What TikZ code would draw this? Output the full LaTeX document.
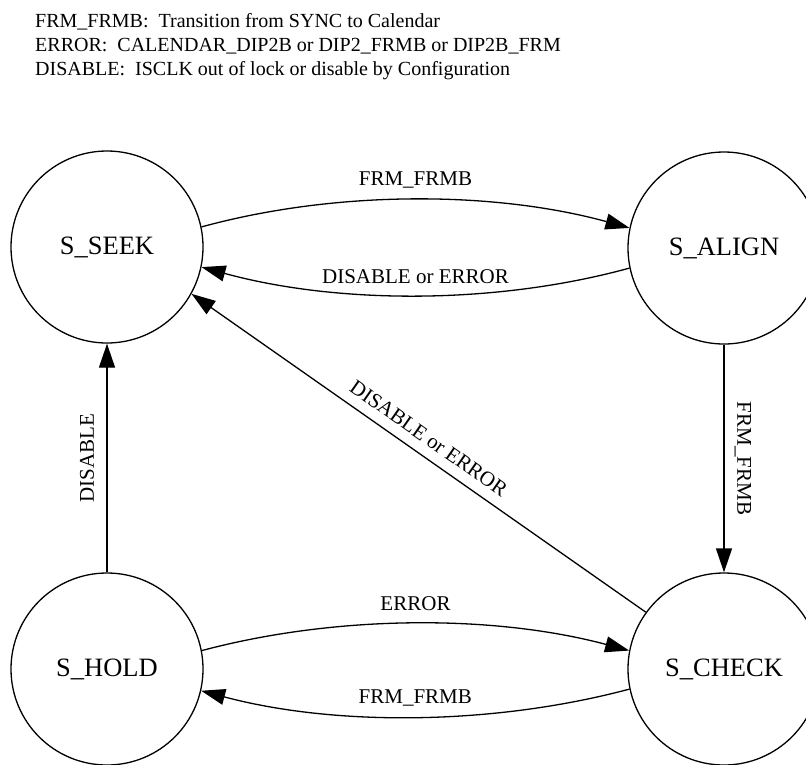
\documentclass[tikz,border=0pt]{standalone}
\usepackage{fontspec}
\setmainfont{Liberation Serif}
\usetikzlibrary{arrows.meta}
\begin{document}
\begin{tikzpicture}[x=1pt,y=-1pt,
  state/.style={draw, circle, minimum size=192pt, inner sep=0pt, line width=1.3pt, font=\fontsize{26.5}{30}\selectfont},
  edge/.style={line width=1.3pt, -{Triangle[length=24pt,width=16pt]}},
  lbl/.style={font=\fontsize{21}{24}\selectfont, inner sep=0pt},
  hdr/.style={font=\fontsize{20}{24}\selectfont, anchor=base west, inner sep=0pt}]
\useasboundingbox (0,0) rectangle (806,764);
\clip (0,0) rectangle (806,764);

\node[hdr] (h1) at (35,27) {FRM\_FRMB:\ \ Transition from SYNC to Calendar};
\node[hdr] (h2) at (35,51) {ERROR:\ \ CALENDAR\_DIP2B or DIP2\_FRMB or DIP2B\_FRM};
\node[hdr] (h3) at (35,75) {DISABLE:\ \ ISCLK out of lock or disable by Configuration};

\node[state] (seek)  at (107,247) {S\_SEEK};
\node[state] (align) at (724,248) {S\_ALIGN};
\node[state] (hold)  at (107,669) {S\_HOLD};
\node[state] (check) at (724,669) {S\_CHECK};

\draw[edge] (seek.12) .. controls +(135,-37) and +(-135,-37) .. (align.168)
  node[midway, lbl, yshift=20pt] {FRM\_FRMB};
\draw[edge] (align.192) .. controls +(-135,37) and +(135,37) .. (seek.-12)
  node[midway, lbl, yshift=19pt] {DISABLE or ERROR};
\draw[edge] (hold.11) .. controls +(135,-36) and +(-135,-36) .. (check.169)
  node[midway, lbl, yshift=20pt] {ERROR};
\draw[edge] (check.192) .. controls +(-135,36) and +(135,36) .. (hold.-13)
  node[midway, lbl, yshift=19pt] {FRM\_FRMB};
\draw[edge] (align.south) -- (check.north)
  node[midway, lbl, xshift=19pt, rotate=-90] {FRM\_FRMB};
\draw[edge] (hold.north) -- (seek.south)
  node[midway, lbl, xshift=-20pt, rotate=90] {DISABLE};
\draw[edge] (check.144) -- (seek.-29)
  node[midway, lbl, sloped, above=10pt] {DISABLE or ERROR};
\end{tikzpicture}
\end{document}
